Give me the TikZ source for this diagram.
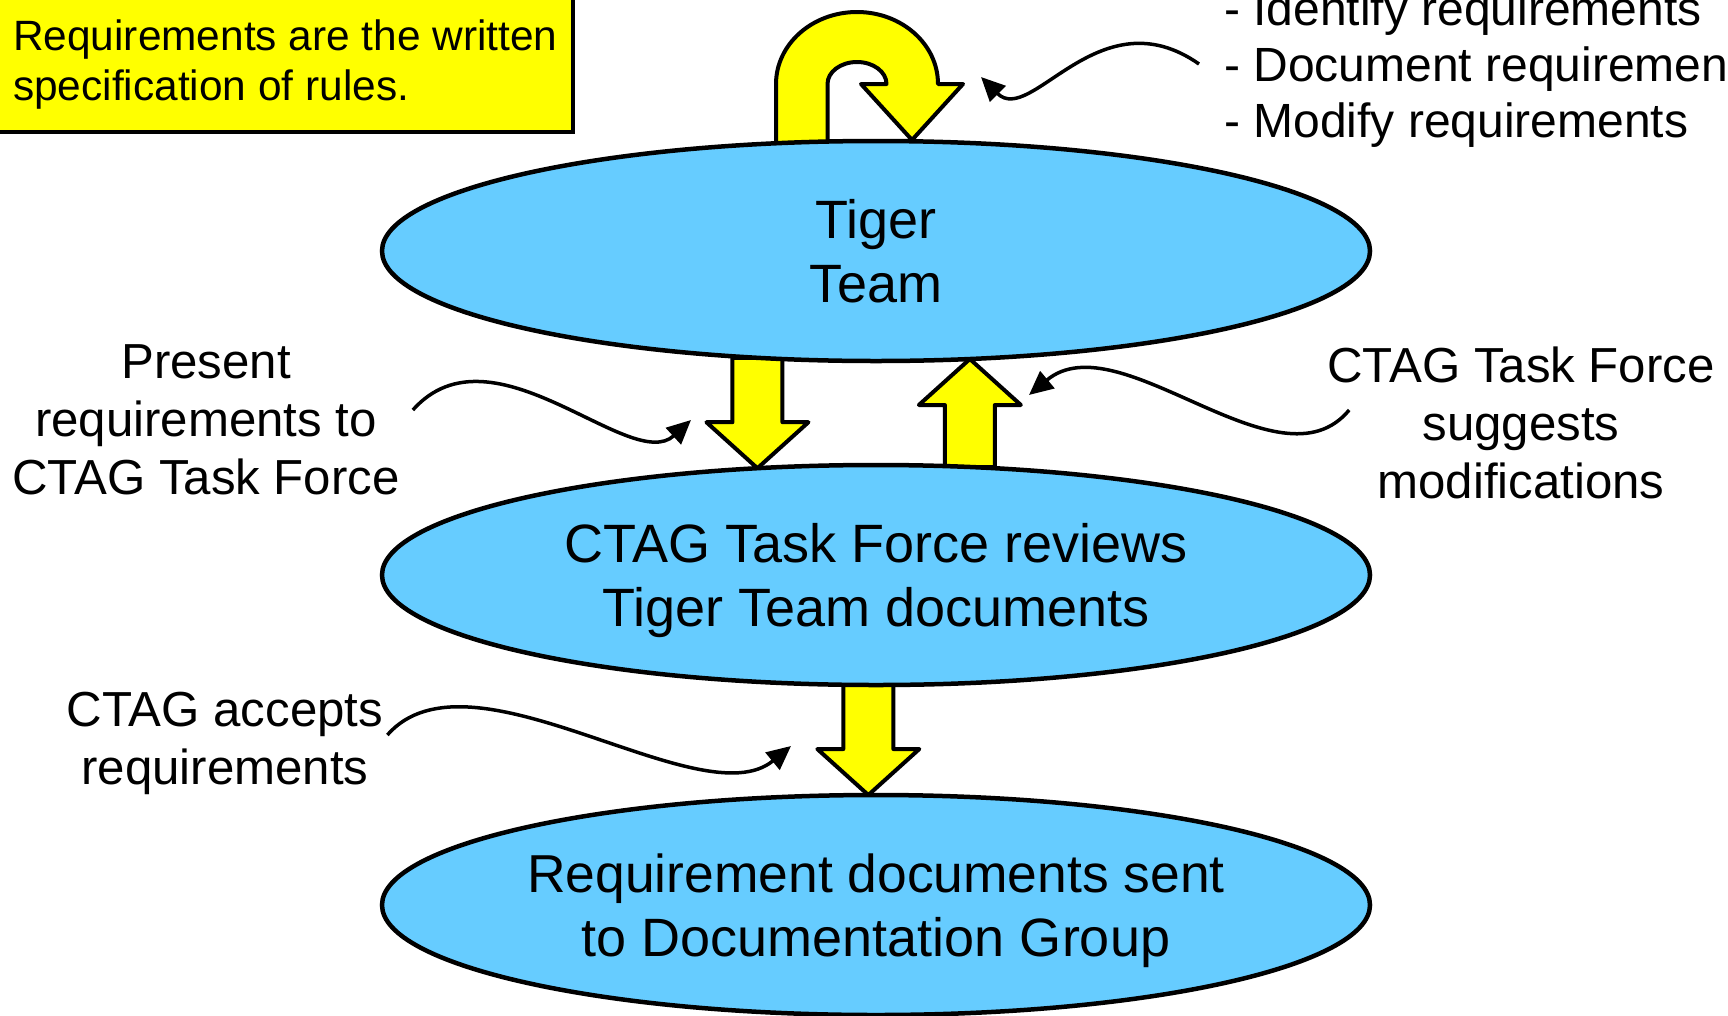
\documentclass[tikz,border=0pt]{standalone}
\usepackage{fontspec}
\setmainfont{Liberation Sans}
\usetikzlibrary{arrows.meta,backgrounds,calc,positioning,shapes.geometric}

\definecolor{skyfill}{RGB}{102,204,255}
\definecolor{notefill}{RGB}{255,255,0}

\begin{document}
\begin{tikzpicture}
  [x=1pt,y=-1pt,
   stage/.style={ellipse,draw,fill=skyfill,line width=4.5pt,outer sep=0pt,
     inner xsep=-6pt,inner ysep=0pt,
     minimum width=988pt,minimum height=220pt,align=center,text depth=0pt,
     font=\fontsize{54}{64}\selectfont},
   remark/.style={inner sep=0pt,align=center,font=\fontsize{49.2}{58}\selectfont},
   steps/.style={inner sep=0pt,align=left,font=\fontsize{48}{56}\selectfont},
   memo/.style={draw,fill=notefill,line width=3.5pt},
   post/.style={-{Triangle[length=24pt,width=22pt]},line width=3.5pt},
   fat/.style={draw,fill=notefill,line width=4pt,line join=round,
     to path={($(\tikztostart)!25pt!90:(\tikztotarget)$)
       -- ($(\tikztotarget)!46pt!(\tikztostart)!25pt!-90:(\tikztostart)$)
       -- ($(\tikztotarget)!46pt!(\tikztostart)!51pt!-90:(\tikztostart)$)
       -- (\tikztotarget)
       -- ($(\tikztotarget)!46pt!(\tikztostart)!51pt!90:(\tikztostart)$)
       -- ($(\tikztotarget)!46pt!(\tikztostart)!25pt!90:(\tikztostart)$)
       -- ($(\tikztostart)!25pt!-90:(\tikztotarget)$) -- cycle}}]

  \path[use as bounding box] (0,0) rectangle (1728,1015);
  \clip (0,0) rectangle (1728,1015);

  % the three stages
  \node[stage] (tiger)                       at (876,251) {Tiger\\Team};
  \node[stage] (ctag)  [below=104pt of tiger] {CTAG Task Force reviews\\Tiger Team documents};
  \node[stage] (docs)  [below=110pt of ctag]
    {\fontsize{53.4}{64}\selectfont Requirement documents sent\\to Documentation Group};

  % yellow note, top left
  \draw[memo] (-10,-10) rectangle (573,132);
  \node[inner sep=0pt,align=left,anchor=west,font=\fontsize{42.4}{50}\selectfont]
    (rules) at (13,65) {Requirements are the written\\specification of rules.};

  % side texts
  \node[steps,anchor=west] (tasks) at (1224,69)
    {- Identify requirements\\- Document requirements\\- Modify requirements};
  \node[remark] (present) at (206,420) {Present\\requirements to\\CTAG Task Force};
  \node[remark] (suggest) at (1521,423) {CTAG Task Force\\suggests\\modifications};
  \node[remark] (accept)  at (225,743) {CTAG accepts\\requirements};

  % block arrows behind the stages
  \begin{scope}[on background layer]
    \draw[fat] (tiger.-138) to (ctag.138);
    \draw[fat] (ctag.49) to (tiger.-49);
    \draw[fat] (ctag.-94) to (docs.94);
    \draw[fill=notefill,line width=4pt,line join=round]
      (776,170) -- (776,84) arc[start angle=180,end angle=0,x radius=81pt,y radius=72pt]
      -- (963,84) -- (912,140) -- (861,84) -- (886.5,84)
      arc[start angle=0,end angle=180,x radius=29.5pt,y radius=22pt]
      -- (827.5,170) -- cycle;
  \end{scope}

  % wavy pointers
  \coordinate (loopTip)    at (981,77);
  \coordinate (presentTip) at (691,420);
  \coordinate (suggestTip) at (1029,395);
  \coordinate (acceptTip)  at (791,746);

  \draw[post] ([xshift=-25pt,yshift=5pt]tasks.west)
    .. controls +(-100,-70) and +(50,50) .. (loopTip);
  \draw[post] ([xshift=13pt,yshift=10pt]present.east)
    .. controls +(80,-90) and +(-60,55) .. (presentTip);
  \draw[post] ([xshift=22pt,yshift=13pt]suggest.west)
    .. controls +(-70,85) and +(90,-75) .. (suggestTip);
  \draw[post] ([xshift=4pt,yshift=8pt]accept.east)
    .. controls +(83,-95) and +(-90,74) .. (acceptTip);
\end{tikzpicture}
\end{document}
